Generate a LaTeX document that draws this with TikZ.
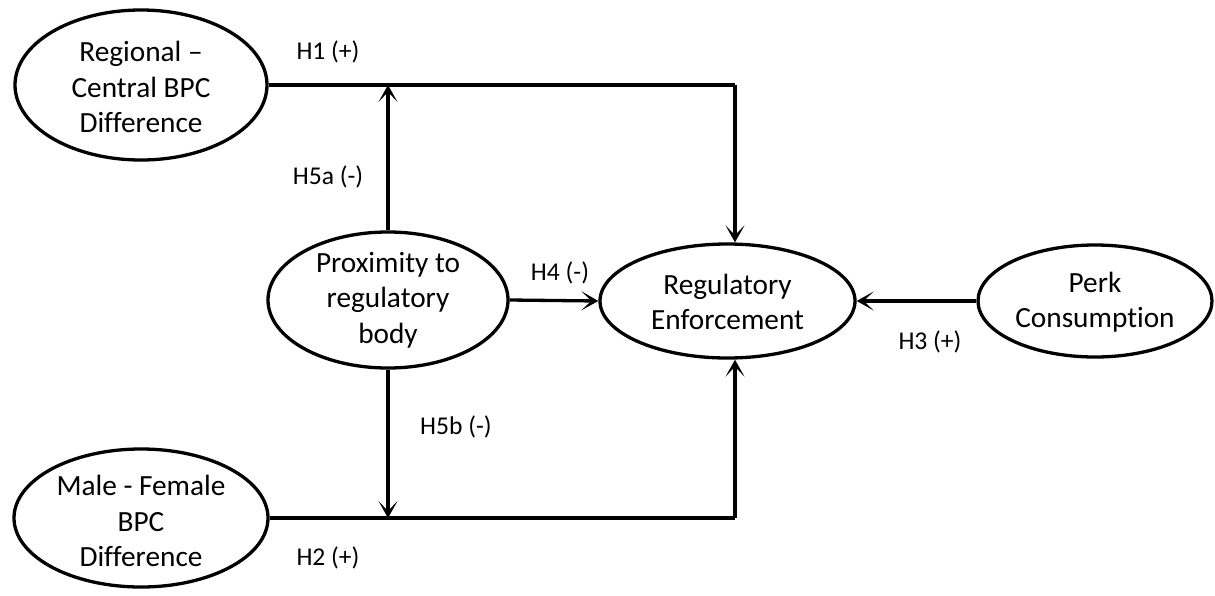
\documentclass[tikz,border=0pt]{standalone}
\usepackage{fontspec}
\setmainfont{Carlito}[Ligatures={NoCommon}]
\usetikzlibrary{shapes.geometric,arrows.meta}
\begin{document}
\begin{tikzpicture}[x=1pt,y=-1pt,
  ell/.style={draw, ellipse, line width=3.3pt, inner sep=0pt},
  txt/.style={align=center, font=\fontsize{29.3}{35.5}\selectfont, inner sep=0pt},
  lbl/.style={font=\fontsize{25.6}{30}\selectfont, inner sep=0pt},
  arr/.style={line width=3.3pt, -{Stealth[length=17pt,width=19pt,inset=10pt]}},
  ln/.style={line width=3.3pt}]
\useasboundingbox (0,0) rectangle (1215,595);
% ellipses
\node[ell, minimum width=252pt, minimum height=150pt] (reg) at (141,85) {};
\node[txt] (regt) at (141,87) {Regional –\\Central BPC\\Difference};
\node[ell, minimum width=254pt, minimum height=138pt] (male) at (141,518) {};
\node[txt] (malet) at (141,521) {Male - Female\\BPC\\Difference};
\node[ell, minimum width=240pt, minimum height=136pt] (prox) at (388,300) {};
\node[txt] (proxt) at (388,300) {Proximity to\\regulatory\\body};
\node[ell, minimum width=255pt, minimum height=114pt] (enf) at (727.5,301) {};
\node[txt] (enft) at (727.5,302) {Regulatory\\Enforcement};
\node[ell, minimum width=234pt, minimum height=112pt] (perk) at (1095,301) {};
\node[txt] (perkt) at (1095,302) {Perk\\Consumption};
% helper coordinates
\coordinate (t1) at (735,85);
\coordinate (b1) at (735,518);
\coordinate (m1) at (388,85);
\coordinate (m2) at (388,518);
% connectors
\draw[ln] (reg.east) -- (t1);
\draw[arr] (t1) -- (t1 |- enf.north);
\draw[ln] (male.east) -- (b1);
\draw[arr] (b1) -- (b1 |- enf.south);
\draw[arr] (prox.north) -- (m1);
\draw[arr] (prox.south) -- (m2);
\draw[arr] (prox.east) -- (enf.west);
\draw[arr] (perk.west) -- (enf.east);
% labels
\node[lbl] (h1) at (328,52) {H1 (+)};
\node[lbl] (h5a) at (328,177) {H5a (-)};
\node[lbl] (h4) at (560,273) {H4 (-)};
\node[lbl] (h3) at (930,342) {H3 (+)};
\node[lbl] (h5b) at (456,427) {H5b (-)};
\node[lbl] (h2) at (328,558) {H2 (+)};
\end{tikzpicture}
\end{document}
